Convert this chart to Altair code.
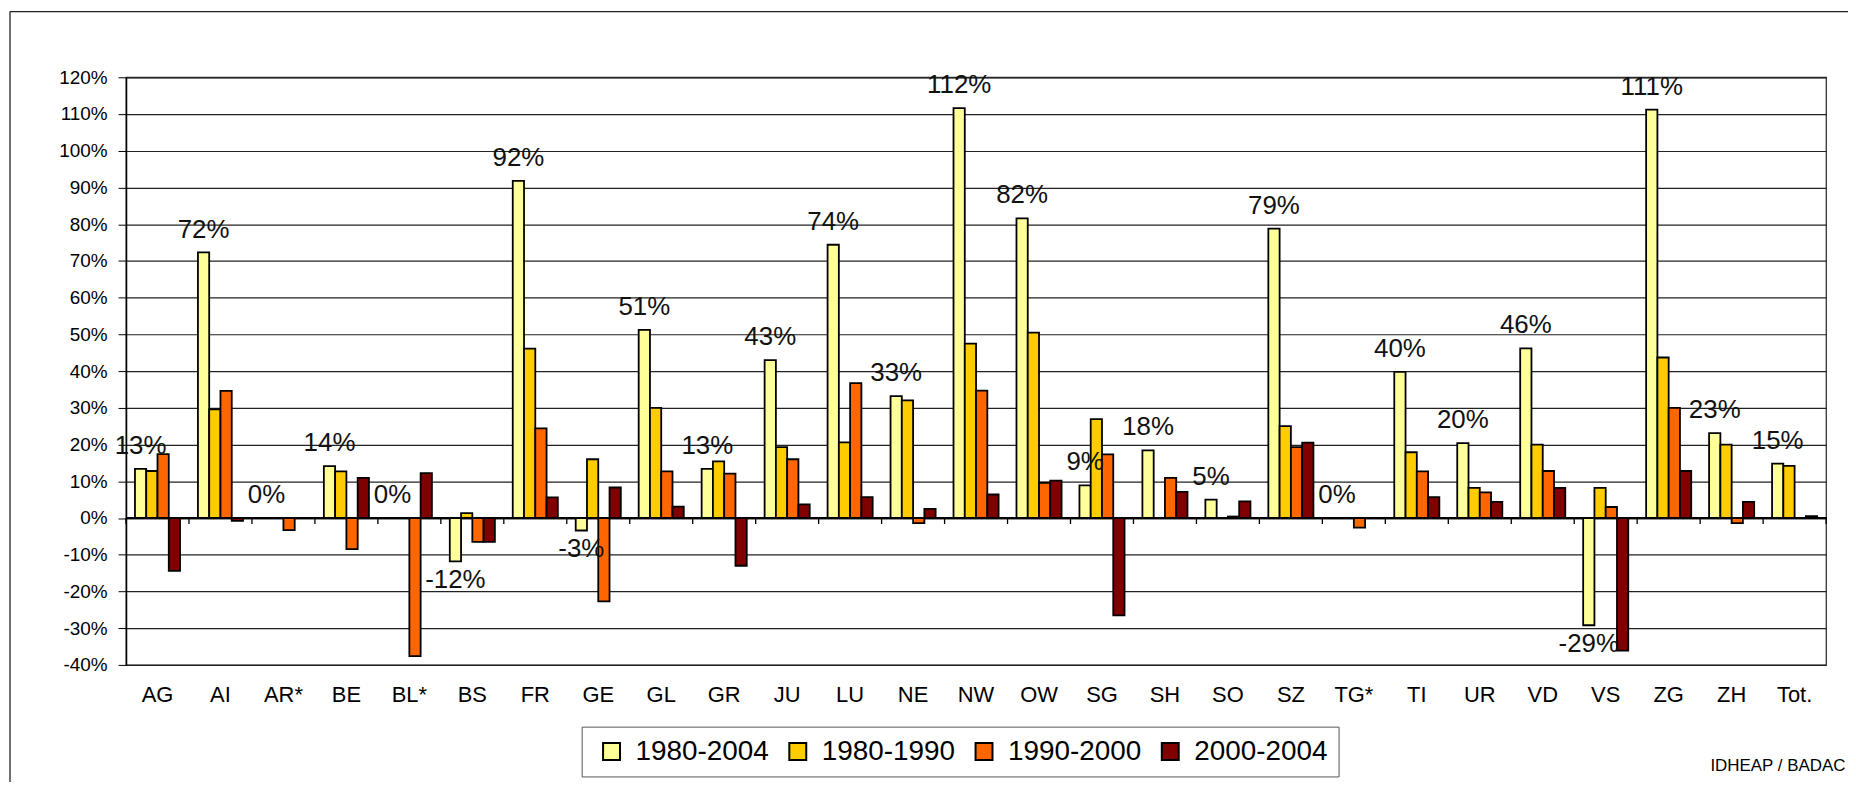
import altair as alt
import pandas as pd

# ---- data ----
cats = ["AG", "AI", "AR*", "BE", "BL*", "BS", "FR", "GE", "GL", "GR", "JU", "LU", "NE",
        "NW", "OW", "SG", "SH", "SO", "SZ", "TG*", "TI", "UR", "VD", "VS", "ZG", "ZH", "Tot."]
series = ["1980-2004", "1980-1990", "1990-2000", "2000-2004"]
colors = ["#FFFF99", "#FFCC00", "#FF6600", "#800000"]

v_1980_2004 = [13.4, 72.3, 0.0, 14.1, 0.0, -11.8, 91.8, -3.4, 51.2, 13.4, 43.0, 74.4, 33.2,
               111.6, 81.6, 8.9, 18.4, 5.0, 78.8, 0.0, 39.8, 20.4, 46.2, -29.2, 111.2, 23.1, 14.8]
v_1980_1990 = [12.8, 29.6, None, 12.7, None, 1.3, 46.1, 16.0, 30.0, 15.4, 19.3, 20.6, 32.0,
               47.5, 50.5, 26.9, None, None, 25.0, None, 17.9, 8.2, 20.0, 8.2, 43.7, 20.0, 14.2]
v_1990_2000 = [17.4, 34.6, -3.3, -8.5, -37.6, -6.5, 24.4, -22.7, 12.7, 12.1, 16.0, 36.7, -1.4,
               34.7, 9.6, 17.3, 10.9, 0.4, 19.3, -2.6, 12.7, 7.0, 12.8, 3.0, 30.0, -1.4, None]
v_2000_2004 = [-14.4, -0.8, None, 10.9, 12.2, -6.5, 5.6, 8.3, 3.1, -13.0, 3.7, 5.7, 2.5,
               6.4, 10.2, -26.5, 7.1, 4.5, 20.5, None, 5.7, 4.4, 8.2, -36.1, 12.8, 4.4, 0.5]
y_ticks = list(range(-40, 130, 10))
source_note = ["IDHEAP / BADAC"]

rows = []
for s, vals in zip(series, [v_1980_2004, v_1980_1990, v_1990_2000, v_2000_2004]):
    for c, v in zip(cats, vals):
        if v is not None:
            rows.append({"cat": c, "series": s, "v": v})
df = pd.DataFrame(rows)

FONT = "Liberation Sans"
W, H = 1707, 590
P_IN, P_OUT = 0.284, 0.142
HALF_GAP = P_OUT * W / len(cats)    # px from band start back to the category boundary
TICK_LEN = 160 * 6 / H              # 6 px expressed in axis units

xscale = alt.Scale(domain=cats, paddingInner=P_IN, paddingOuter=P_OUT)
offscale = alt.Scale(domain=series, paddingInner=0, paddingOuter=0)
yscale = alt.Scale(domain=[-40, 120], nice=False, zero=False)

yaxis = alt.Axis(values=y_ticks, labelExpr="datum.value + '%'", title=None, grid=True,
                 gridColor="#222", gridWidth=1.2, domain=True, domainColor="#000", domainWidth=1.5,
                 ticks=True, tickSize=8, tickColor="#000", labelFont=FONT, labelFontSize=19,
                 labelColor="#000", labelPadding=11)
y_enc = alt.Y("v:Q", scale=yscale, axis=yaxis)
xo = alt.XOffset("series:N", scale=offscale, sort=series)

label_axis = alt.Axis(title=None, orient="bottom", ticks=False, tickSize=0, domain=False, grid=False,
                      labelAngle=0, labelFont=FONT, labelFontSize=22, labelColor="#000",
                      labelPadding=20)

base = alt.Chart(df)

bars = base.transform_filter("datum.v != 0").mark_bar(stroke="#000", strokeWidth=1.8).encode(
    x=alt.X("cat:N", scale=xscale, sort=cats, axis=label_axis),
    xOffset=xo,
    y=y_enc,
    color=alt.Color("series:N", scale=alt.Scale(domain=series, range=colors), sort=series,
                    legend=alt.Legend(title=None, orient="none", legendX=457.5, legendY=652,
                                      direction="horizontal", symbolType="square", symbolSize=289,
                                      symbolStrokeColor="#000", symbolStrokeWidth=2,
                                      labelFont=FONT, labelFontSize=28, labelColor="#000",
                                      labelOffset=10, symbolOffset=5, columnPadding=10,
                                      padding=11, strokeColor="#555", fillColor="#fff")),
)

lab = base.transform_filter("datum.series == '1980-2004'").transform_calculate(
    lbl="round(datum.v) + '%'")

pos = lab.transform_filter("datum.v >= 0").mark_text(
    baseline="alphabetic", dy=-15, font=FONT, fontSize=26, color="#111").encode(
    x=alt.X("cat:N", scale=xscale, sort=cats, axis=label_axis),
    xOffset=xo, y=y_enc, text="lbl:N")

neg = lab.transform_filter("datum.v < 0").mark_text(
    baseline="top", dy=6, font=FONT, fontSize=26, color="#111").encode(
    x=alt.X("cat:N", scale=xscale, sort=cats, axis=label_axis),
    xOffset=xo, y=y_enc, text="lbl:N")

# category axis drawn on the zero line, with ticks between categories
y0 = alt.YDatum(0, scale=yscale, axis=yaxis)
y0_end = alt.Y2Datum(-TICK_LEN)
cat_df = alt.Chart(pd.DataFrame({"cat": cats}))
zero_line = cat_df.mark_rule(color="#000", strokeWidth=1.6).encode(y=y0)
ticks_start = cat_df.mark_rule(color="#000", strokeWidth=1.3, xOffset=-HALF_GAP).encode(
    x=alt.X("cat:N", scale=xscale, sort=cats, bandPosition=0, axis=label_axis),
    y=y0, y2=y0_end)
end_df = alt.Chart(pd.DataFrame({"cat": cats[-1:]}))
tick_end = end_df.mark_rule(color="#000", strokeWidth=1.3, xOffset=HALF_GAP).encode(
    x=alt.X("cat:N", scale=xscale, sort=cats, bandPosition=1, axis=label_axis),
    y=y0, y2=y0_end)

one = alt.Chart(pd.DataFrame({"t": source_note}))
frame_v = one.mark_rule(color="#222", strokeWidth=1.3).encode(
    x=alt.value(-116.5), y=alt.value(-66), y2=alt.value(800))
frame_h = one.mark_rule(color="#222", strokeWidth=1.3).encode(
    x=alt.value(-116.5), x2=alt.value(1760), y=alt.value(-66))
footer = one.mark_text(align="right", baseline="alphabetic", font=FONT, fontSize=17,
                       color="#000").encode(
    x=alt.value(1726.5), y=alt.value(697), text="t:N")

chart = alt.layer(bars, zero_line, ticks_start, tick_end, pos, neg, frame_v, frame_h, footer
).properties(
    width=W, height=H,
    autosize=alt.AutoSizeParams(type="none"),
    padding={"left": 118.5, "top": 68, "right": 22, "bottom": 116},
    background="#ffffff",
).configure_view(stroke="#333", strokeWidth=1.3)

chart.save("out.html", embed_options={"renderer": "svg", "actions": False})
